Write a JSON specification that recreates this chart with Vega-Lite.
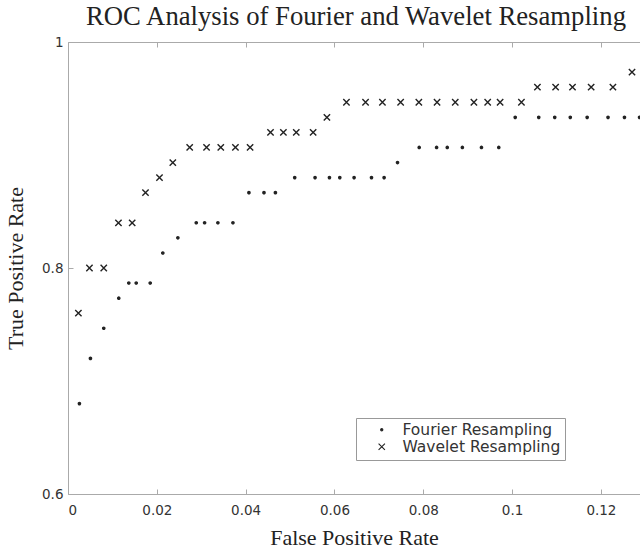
{
  "$schema": "https://vega.github.io/schema/vega-lite/v6.json",
  "width": 572,
  "height": 452,
  "autosize": {"type": "none"},
  "padding": {"left": 68, "top": 42, "right": 0, "bottom": 58},
  "background": "white",
  "title": {
    "text": "ROC Analysis of Fourier and Wavelet Resampling",
    "font": "Liberation Serif",
    "fontSize": 26.7,
    "fontWeight": "normal",
    "color": "#222",
    "anchor": "middle",
    "dx": 2,
    "offset": 4
  },
  "config": {
    "view": {"stroke": null},
    "axis": {
      "labelFont": "DejaVu Sans",
      "labelFontSize": 13.5,
      "labelColor": "#333",
      "titleFont": "Liberation Serif",
      "titleFontSize": 22,
      "titleFontWeight": "normal",
      "titleColor": "#222",
      "domainColor": "#aaa",
      "tickColor": "#aaa",
      "grid": false,
      "tickSize": -5
    }
  },
  "data": {
    "values": [
      {"series": "Fourier Resampling", "fpr": 0.00257, "tpr": 0.68},
      {"series": "Fourier Resampling", "fpr": 0.00505, "tpr": 0.72},
      {"series": "Fourier Resampling", "fpr": 0.00805, "tpr": 0.7467},
      {"series": "Fourier Resampling", "fpr": 0.01143, "tpr": 0.7733},
      {"series": "Fourier Resampling", "fpr": 0.01369, "tpr": 0.7867},
      {"series": "Fourier Resampling", "fpr": 0.01536, "tpr": 0.7867},
      {"series": "Fourier Resampling", "fpr": 0.01851, "tpr": 0.7867},
      {"series": "Fourier Resampling", "fpr": 0.02135, "tpr": 0.8133},
      {"series": "Fourier Resampling", "fpr": 0.02474, "tpr": 0.8267},
      {"series": "Fourier Resampling", "fpr": 0.02888, "tpr": 0.84},
      {"series": "Fourier Resampling", "fpr": 0.03076, "tpr": 0.84},
      {"series": "Fourier Resampling", "fpr": 0.03375, "tpr": 0.84},
      {"series": "Fourier Resampling", "fpr": 0.03714, "tpr": 0.84},
      {"series": "Fourier Resampling", "fpr": 0.04074, "tpr": 0.8667},
      {"series": "Fourier Resampling", "fpr": 0.04413, "tpr": 0.8667},
      {"series": "Fourier Resampling", "fpr": 0.0467, "tpr": 0.8667},
      {"series": "Fourier Resampling", "fpr": 0.05105, "tpr": 0.88},
      {"series": "Fourier Resampling", "fpr": 0.05563, "tpr": 0.88},
      {"series": "Fourier Resampling", "fpr": 0.05887, "tpr": 0.88},
      {"series": "Fourier Resampling", "fpr": 0.0612, "tpr": 0.88},
      {"series": "Fourier Resampling", "fpr": 0.06442, "tpr": 0.88},
      {"series": "Fourier Resampling", "fpr": 0.06834, "tpr": 0.88},
      {"series": "Fourier Resampling", "fpr": 0.07118, "tpr": 0.88},
      {"series": "Fourier Resampling", "fpr": 0.0742, "tpr": 0.8933},
      {"series": "Fourier Resampling", "fpr": 0.07908, "tpr": 0.9067},
      {"series": "Fourier Resampling", "fpr": 0.083, "tpr": 0.9067},
      {"series": "Fourier Resampling", "fpr": 0.0854, "tpr": 0.9067},
      {"series": "Fourier Resampling", "fpr": 0.0888, "tpr": 0.9067},
      {"series": "Fourier Resampling", "fpr": 0.0931, "tpr": 0.9067},
      {"series": "Fourier Resampling", "fpr": 0.097, "tpr": 0.9067},
      {"series": "Fourier Resampling", "fpr": 0.1007, "tpr": 0.9333},
      {"series": "Fourier Resampling", "fpr": 0.106, "tpr": 0.9333},
      {"series": "Fourier Resampling", "fpr": 0.1096, "tpr": 0.9333},
      {"series": "Fourier Resampling", "fpr": 0.1131, "tpr": 0.9333},
      {"series": "Fourier Resampling", "fpr": 0.1169, "tpr": 0.9333},
      {"series": "Fourier Resampling", "fpr": 0.1216, "tpr": 0.9333},
      {"series": "Fourier Resampling", "fpr": 0.1253, "tpr": 0.9333},
      {"series": "Fourier Resampling", "fpr": 0.1287, "tpr": 0.9333},
      {"series": "Wavelet Resampling", "fpr": 0.00234, "tpr": 0.76},
      {"series": "Wavelet Resampling", "fpr": 0.00483, "tpr": 0.8},
      {"series": "Wavelet Resampling", "fpr": 0.00805, "tpr": 0.8},
      {"series": "Wavelet Resampling", "fpr": 0.01136, "tpr": 0.84},
      {"series": "Wavelet Resampling", "fpr": 0.01445, "tpr": 0.84},
      {"series": "Wavelet Resampling", "fpr": 0.01745, "tpr": 0.8667},
      {"series": "Wavelet Resampling", "fpr": 0.0206, "tpr": 0.88},
      {"series": "Wavelet Resampling", "fpr": 0.0236, "tpr": 0.8933},
      {"series": "Wavelet Resampling", "fpr": 0.0274, "tpr": 0.9067},
      {"series": "Wavelet Resampling", "fpr": 0.0312, "tpr": 0.9067},
      {"series": "Wavelet Resampling", "fpr": 0.0344, "tpr": 0.9067},
      {"series": "Wavelet Resampling", "fpr": 0.0377, "tpr": 0.9067},
      {"series": "Wavelet Resampling", "fpr": 0.041, "tpr": 0.9067},
      {"series": "Wavelet Resampling", "fpr": 0.0456, "tpr": 0.92},
      {"series": "Wavelet Resampling", "fpr": 0.0485, "tpr": 0.92},
      {"series": "Wavelet Resampling", "fpr": 0.0514, "tpr": 0.92},
      {"series": "Wavelet Resampling", "fpr": 0.0552, "tpr": 0.92},
      {"series": "Wavelet Resampling", "fpr": 0.0583, "tpr": 0.9333},
      {"series": "Wavelet Resampling", "fpr": 0.0627, "tpr": 0.9467},
      {"series": "Wavelet Resampling", "fpr": 0.067, "tpr": 0.9467},
      {"series": "Wavelet Resampling", "fpr": 0.0708, "tpr": 0.9467},
      {"series": "Wavelet Resampling", "fpr": 0.0749, "tpr": 0.9467},
      {"series": "Wavelet Resampling", "fpr": 0.079, "tpr": 0.9467},
      {"series": "Wavelet Resampling", "fpr": 0.0831, "tpr": 0.9467},
      {"series": "Wavelet Resampling", "fpr": 0.0872, "tpr": 0.9467},
      {"series": "Wavelet Resampling", "fpr": 0.0914, "tpr": 0.9467},
      {"series": "Wavelet Resampling", "fpr": 0.0945, "tpr": 0.9467},
      {"series": "Wavelet Resampling", "fpr": 0.0973, "tpr": 0.9467},
      {"series": "Wavelet Resampling", "fpr": 0.1021, "tpr": 0.9467},
      {"series": "Wavelet Resampling", "fpr": 0.1057, "tpr": 0.96},
      {"series": "Wavelet Resampling", "fpr": 0.1098, "tpr": 0.96},
      {"series": "Wavelet Resampling", "fpr": 0.1136, "tpr": 0.96},
      {"series": "Wavelet Resampling", "fpr": 0.1178, "tpr": 0.96},
      {"series": "Wavelet Resampling", "fpr": 0.1227, "tpr": 0.96},
      {"series": "Wavelet Resampling", "fpr": 0.127, "tpr": 0.9733}
    ]
  },
  "layer": [
    {
      "mark": {"type": "point", "filled": true, "fill": "#222", "stroke": "#222", "strokeWidth": 1.4, "opacity": 1, "clip": true},
      "encoding": {
        "x": {
          "field": "fpr", "type": "quantitative",
          "scale": {"domain": [0, 0.1288], "nice": false, "zero": false},
          "axis": {"orient": "bottom", "values": [0, 0.02, 0.04, 0.06, 0.08, 0.1, 0.12], "format": "~g", "labelPadding": 14, "title": "False Positive Rate", "titlePadding": 11}
        },
        "y": {
          "field": "tpr", "type": "quantitative",
          "scale": {"domain": [0.6, 1], "nice": false, "zero": false},
          "axis": {"orient": "left", "values": [0.6, 0.8, 1], "format": "~g", "labelPadding": 10, "title": "True Positive Rate", "titlePadding": 14}
        },
        "shape": {
          "field": "series", "type": "nominal",
          "scale": {"domain": ["Fourier Resampling", "Wavelet Resampling"], "range": ["circle", "M-1,-1L1,1M-1,1L1,-1"]},
          "legend": {
            "title": null,
            "orient": "none",
            "legendX": 288,
            "legendY": 376,
            "strokeColor": "#999",
            "fillColor": "white",
            "padding": 4,
            "labelFont": "DejaVu Sans",
            "labelFontSize": 15.5,
            "labelColor": "#333",
            "labelLimit": 300,
            "labelExpr": "datum.label + '\u2003'",
            "symbolOffset": 14,
            "labelOffset": 13,
            "rowPadding": 0,
            "symbolFillColor": "#222",
            "symbolStrokeColor": "#222",
            "symbolStrokeWidth": 1.1
          }
        },
        "size": {
          "field": "series", "type": "nominal",
          "scale": {"domain": ["Fourier Resampling", "Wavelet Resampling"], "range": [5, 40]}
        }
      }
    },
    {
      "mark": {"type": "point", "opacity": 0},
      "encoding": {
        "x": {
          "field": "fpr", "type": "quantitative",
          "axis": {"orient": "top", "values": [0, 0.02, 0.04, 0.06, 0.08, 0.1, 0.12], "labels": false, "title": null}
        }
      }
    }
  ],
  "resolve": {"axis": {"x": "independent"}}
}
